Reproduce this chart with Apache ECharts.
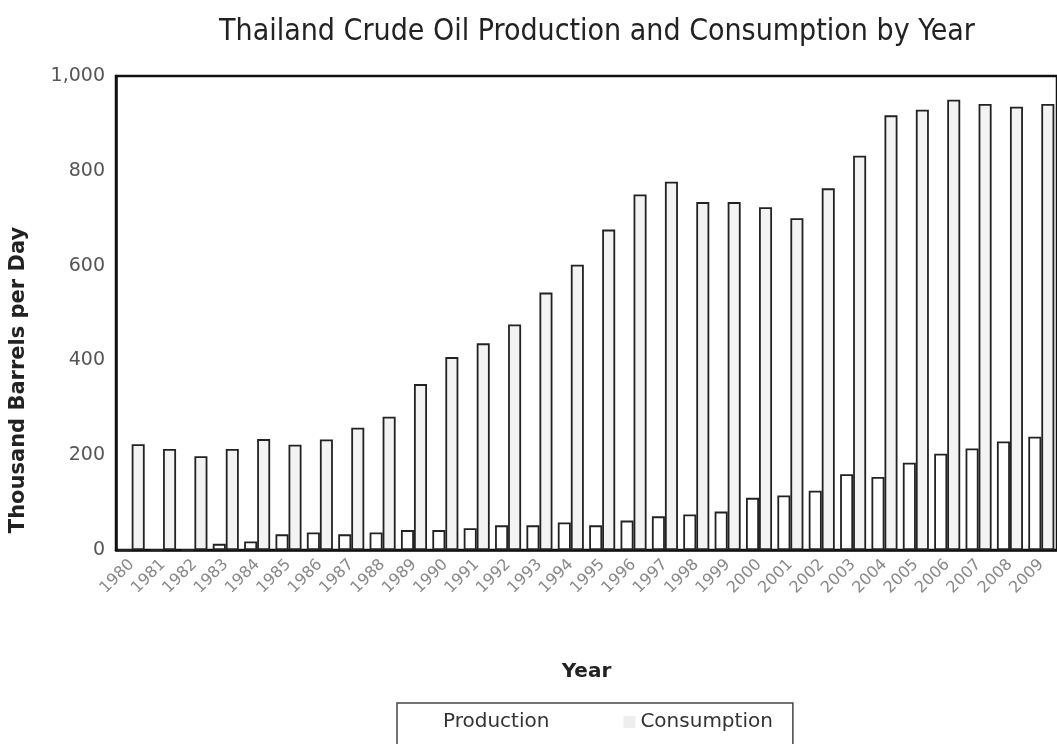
<!DOCTYPE html>
<html>
<head>
<meta charset="utf-8">
<title>Thailand Crude Oil Production and Consumption by Year</title>
<script src="https://cdn.jsdelivr.net/npm/echarts@6/dist/echarts.min.js"></script>
<style>
  html, body { margin: 0; padding: 0; background: #fff; }
  #chart { width: 1057px; height: 744px; }
</style>
</head>
<body>
<div id="chart"></div>
<script>
// Years on the category axis
const years = [
  '1980','1981','1982','1983','1984','1985','1986','1987','1988','1989',
  '1990','1991','1992','1993','1994','1995','1996','1997','1998','1999',
  '2000','2001','2002','2003','2004','2005','2006','2007','2008','2009'
];

// Crude oil production, thousand barrels per day
const production = [
  0, 0, 0, 13, 18, 33, 37, 33, 37, 42,
  42, 46, 52, 52, 58, 52, 62, 71, 75, 81,
  110, 115, 125, 160, 154, 184, 203, 214, 229, 239
];

// Crude oil consumption, thousand barrels per day
const consumption = [
  223, 213, 198, 213, 234, 222, 233, 258, 281, 350,
  407, 436, 476, 543, 602, 676, 750, 777, 734, 734,
  723, 700, 763, 832, 917, 929, 950, 941, 935, 941
];

// Value-axis tick marks
const yTicks = [0, 200, 400, 600, 800, 1000];

const chart = echarts.init(document.getElementById('chart'), null, { renderer: 'canvas' });

const barStroke = '#222';
const labelFont = 'DejaVu Sans, Verdana, sans-serif';

chart.setOption({
  animation: false,
  backgroundColor: '#ffffff',
  title: {
    text: 'Thailand Crude Oil Production and Consumption by Year',
    left: 592,
    top: 12,
    textAlign: 'center',
    textStyle: {
      fontFamily: 'DejaVu Sans Condensed, Liberation Sans Narrow, sans-serif',
      fontWeight: 'normal',
      fontSize: 30,
      color: '#222'
    }
  },
  legend: {
    left: 397,
    top: 703,
    orient: 'horizontal',
    padding: [9, 20, 20, 29],
    borderColor: '#444',
    borderWidth: 1.5,
    itemWidth: 12,
    itemHeight: 12,
    itemGap: 74,
    icon: 'rect',
    textStyle: { fontFamily: labelFont, fontSize: 20, color: '#333' },
    data: [
      { name: 'Production', itemStyle: { color: '#ffffff', borderWidth: 0 } },
      { name: 'Consumption', itemStyle: { color: '#eeeeee', borderWidth: 0 } }
    ]
  },
  grid: {
    left: 116,
    top: 76,
    width: 945,
    height: 474,
    show: true,
    borderColor: '#111',
    borderWidth: 2.5,
    containLabel: false
  },
  xAxis: {
    type: 'category',
    data: years,
    name: 'Year',
    nameLocation: 'middle',
    nameGap: 112,
    nameTextStyle: { fontFamily: labelFont, fontWeight: 'bold', fontSize: 20, color: '#222' },
    axisLine: { show: true, lineStyle: { color: '#111', width: 2.5 } },
    axisTick: { show: false },
    axisLabel: {
      interval: 0,
      rotate: 45,
      margin: 12,
      fontFamily: labelFont,
      fontSize: 16,
      color: '#888'
    }
  },
  yAxis: {
    type: 'value',
    min: yTicks[0],
    max: yTicks[yTicks.length - 1],
    interval: yTicks[1] - yTicks[0],
    axisLine: { show: true, lineStyle: { color: '#111', width: 2.5 } },
    axisTick: { show: false },
    splitLine: { show: false },
    axisLabel: {
      margin: 11,
      fontFamily: labelFont,
      fontSize: 19,
      color: '#555',
      formatter: v => v.toLocaleString('en-US')
    }
  },
  graphic: [{
    type: 'text',
    x: 19,
    y: 380,
    rotation: Math.PI / 2,
    style: {
      text: 'Thousand Barrels per Day',
      fontFamily: labelFont,
      fontWeight: 'bold',
      fontSize: 21,
      fill: '#222',
      align: 'center',
      verticalAlign: 'middle'
    }
  }],
  series: [
    {
      name: 'Production',
      type: 'bar',
      data: production,
      barGap: '0%',
      barCategoryGap: '17%',
      itemStyle: { color: '#ffffff', borderColor: barStroke, borderWidth: 1.8 }
    },
    {
      name: 'Consumption',
      type: 'bar',
      data: consumption,
      barGap: '0%',
      barCategoryGap: '17%',
      itemStyle: { color: '#f3f3f3', borderColor: barStroke, borderWidth: 1.8 }
    }
  ]
});
</script>
</body>
</html>
